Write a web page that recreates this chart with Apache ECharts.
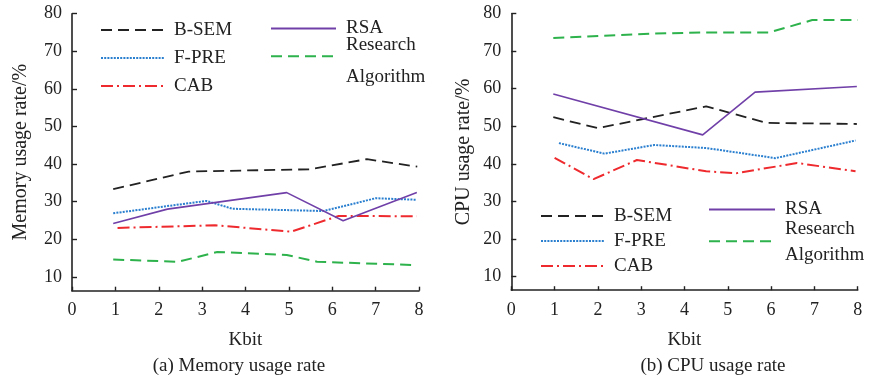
<!DOCTYPE html>
<html>
<head>
<meta charset="utf-8">
<script src="https://cdn.jsdelivr.net/npm/echarts@6/dist/echarts.min.js"></script>
<style>
  html, body { margin: 0; padding: 0; background: #fff; }
  #chart { width: 869px; height: 377px; }
</style>
</head>
<body>
<div id="chart"></div>
<script>
// Memory usage rate (%) vs Kbit, [kbit, value]
const memBSEM = [[0.95, 33.3], [2.69, 38.0], [5.49, 38.6], [6.8, 41.3], [7.96, 39.3]];
const memFPRE = [[0.95, 26.9], [3.1, 30.2], [3.7, 28.1], [5.8, 27.5], [7.0, 30.9], [7.93, 30.5]];
const memCAB = [[1.05, 23.0], [3.3, 23.7], [5.05, 22.0], [6.15, 26.2], [7.95, 26.1]];
const memRSA = [[0.95, 24.2], [2.2, 28.0], [4.95, 32.4], [6.25, 24.9], [7.95, 32.4]];
const memResearch = [[0.95, 14.6], [2.45, 14.0], [3.35, 16.6], [4.95, 15.8], [5.65, 14.0], [7.95, 13.1]];

// CPU usage rate (%) vs Kbit, [kbit, value]
const cpuBSEM = [[0.97, 52.4], [2.0, 49.5], [4.5, 55.3], [5.9, 50.9], [7.98, 50.6]];
const cpuFPRE = [[1.1, 45.5], [2.15, 42.7], [3.3, 45.0], [4.5, 44.2], [6.1, 41.5], [7.95, 46.2]];
const cpuCAB = [[1.0, 41.6], [1.9, 35.9], [2.9, 41.0], [4.5, 38.0], [5.2, 37.5], [6.6, 40.2], [7.95, 38.0]];
const cpuRSA = [[0.97, 58.6], [4.42, 47.7], [5.63, 59.1], [7.98, 60.6]];
const cpuResearch = [[0.97, 73.5], [2.1, 74.1], [3.3, 74.7], [4.4, 75.0], [5.95, 75.0], [6.95, 78.3], [8.0, 78.3]];

// Axis labels
const xTicks = [0, 1, 2, 3, 4, 5, 6, 7, 8];
const yTicks = [10, 20, 30, 40, 50, 60, 70, 80];

const FONT = 'Liberation Serif';
const TXT = '#222';

const styles = {
  'B-SEM': { color: '#222222', width: 1.8, type: [11, 6] },
  'F-PRE': { color: '#2a7fcf', width: 2, type: [2, 1.2] },
  'CAB': { color: '#ee2a2e', width: 2, type: [12, 4, 2, 4] },
  'RSA': { color: '#7040a8', width: 1.6, type: 'solid' },
  'Research Algorithm': { color: '#2db24c', width: 2, type: [11, 6] }
};

function lineSeries(name, data, idx) {
  const s = styles[name];
  return {
    name: name,
    type: 'line',
    xAxisIndex: idx,
    yAxisIndex: idx,
    data: data,
    symbol: 'none',
    animation: false,
    lineStyle: { color: s.color, width: s.width, type: s.type },
    itemStyle: { color: s.color }
  };
}

function xAxisCfg(idx) {
  return {
    gridIndex: idx,
    type: 'value',
    min: xTicks[0],
    max: xTicks[xTicks.length - 1],
    interval: 1,
    name: 'Kbit',
    nameLocation: 'middle',
    nameGap: 40,
    nameTextStyle: { fontFamily: FONT, fontSize: 19, color: TXT },
    axisLine: { lineStyle: { color: '#222', width: 1.6 } },
    axisTick: { inside: true, length: 4, lineStyle: { color: '#222', width: 1.4 } },
    axisLabel: { fontFamily: FONT, fontSize: 18, color: TXT, margin: 11 },
    splitLine: { show: false }
  };
}

function yAxisCfg(idx, name, gap) {
  return {
    gridIndex: idx,
    type: 'value',
    min: 6.3,
    max: yTicks[yTicks.length - 1],
    splitNumber: 7,
    name: name,
    nameLocation: 'middle',
    nameRotate: 90,
    nameGap: gap,
    nameTextStyle: { fontFamily: FONT, fontSize: 20, color: TXT },
    axisLine: { show: true, lineStyle: { color: '#222', width: 1.6 } },
    axisTick: { show: true, inside: true, length: 5, lineStyle: { color: '#222', width: 1.4 } },
    axisLabel: {
      fontFamily: FONT, fontSize: 18, color: TXT, margin: 10, showMinLabel: false,
      formatter: v => (yTicks.indexOf(Math.round(v)) >= 0 && Math.abs(v - Math.round(v)) < 1e-6) ? String(Math.round(v)) : ''
    },
    splitLine: { show: false }
  };
}

function legendCfg(names, left, top, gap, extra) {
  return Object.assign({
    data: names,
    orient: 'vertical',
    left: left,
    top: top,
    padding: 0,
    itemWidth: 63,
    itemHeight: 14,
    itemGap: gap,
    itemStyle: { color: 'transparent', borderColor: 'transparent', borderWidth: 0 },
    textStyle: { fontFamily: FONT, fontSize: 19, color: TXT, lineHeight: 20, padding: [0, 0, 0, 5] },
    selectedMode: false
  }, extra || {});
}

// Two-line legend label; each line gets its own line box height
function twoLineLegend(left, top, width, h1, h2) {
  return legendCfg(['Research Algorithm'], left, top, 8, {
    itemWidth: width,
    formatter: () => '{r|Research}\n{g|Algorithm}',
    textStyle: {
      fontFamily: FONT, fontSize: 19, color: TXT, padding: [0, 0, 0, 5],
      rich: {
        r: { fontFamily: FONT, fontSize: 19, color: TXT, lineHeight: h1 },
        g: { fontFamily: FONT, fontSize: 19, color: TXT, lineHeight: h2 }
      }
    }
  });
}

const chart = echarts.init(document.getElementById('chart'), null, { renderer: 'canvas' });

chart.setOption({
  backgroundColor: '#fff',
  animation: false,
  title: [
    { text: '(a) Memory usage rate', left: 234, top: 352, textAlign: 'center',
      textStyle: { fontFamily: FONT, fontSize: 19, fontWeight: 'normal', color: TXT } },
    { text: '(b) CPU usage rate', left: 708, top: 352, textAlign: 'center',
      textStyle: { fontFamily: FONT, fontSize: 19, fontWeight: 'normal', color: TXT } }
  ],
  grid: [
    { left: 72, top: 13.7, width: 347, height: 277 },
    { left: 511.3, top: 13.7, width: 346.4, height: 276.5 }
  ],
  xAxis: [xAxisCfg(0), xAxisCfg(1)],
  yAxis: [yAxisCfg(0, 'Memory usage rate/%', 41), yAxisCfg(1, 'CPU usage rate/%', 38)],
  legend: [
    legendCfg(['B-SEM', 'F-PRE', 'CAB'], 100, 20, 8),
    legendCfg(['RSA'], 270, 18.5, 8, { itemWidth: 65 }),
    twoLineLegend(270, 35.3, 65, 42, 22.8),
    legendCfg(['B-SEM', 'F-PRE', 'CAB'], 540, 206, 5),
    legendCfg(['RSA'], 708, 199.5, 8, { itemWidth: 66 }),
    twoLineLegend(708, 220, 66, 28.6, 23.4)
  ],
  series: [
    lineSeries('B-SEM', memBSEM, 0),
    lineSeries('F-PRE', memFPRE, 0),
    lineSeries('CAB', memCAB, 0),
    lineSeries('RSA', memRSA, 0),
    lineSeries('Research Algorithm', memResearch, 0),
    lineSeries('B-SEM', cpuBSEM, 1),
    lineSeries('F-PRE', cpuFPRE, 1),
    lineSeries('CAB', cpuCAB, 1),
    lineSeries('RSA', cpuRSA, 1),
    lineSeries('Research Algorithm', cpuResearch, 1)
  ]
});
</script>
</body>
</html>
